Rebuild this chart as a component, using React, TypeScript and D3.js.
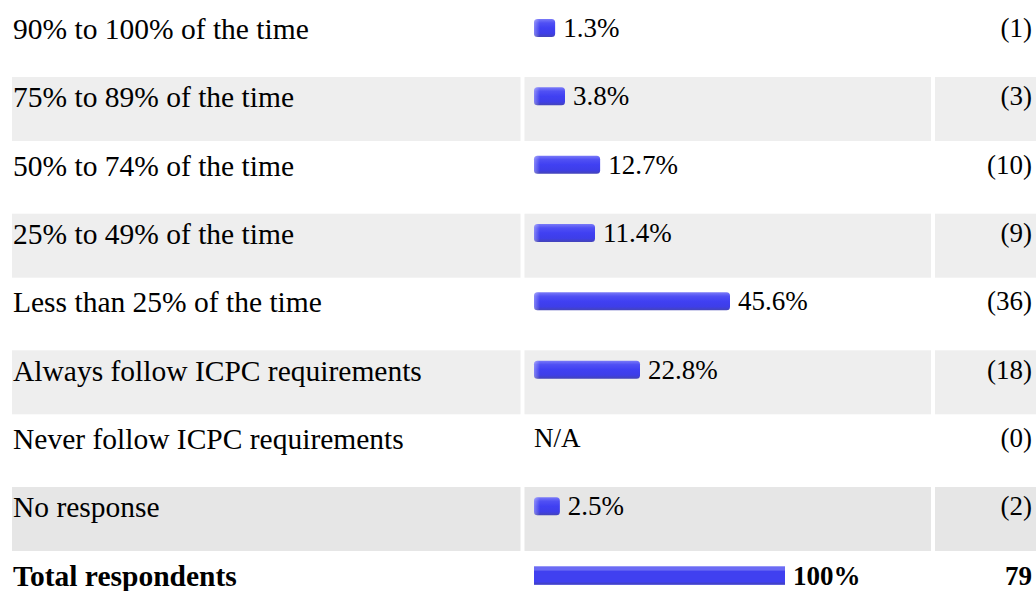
import React from "react";
import * as d3 from "d3";

const categories = [
  "90% to 100% of the time",
  "75% to 89% of the time",
  "50% to 74% of the time",
  "25% to 49% of the time",
  "Less than 25% of the time",
  "Always follow ICPC requirements",
  "Never follow ICPC requirements",
  "No response",
];
const percents: (number | null)[] = [1.3, 3.8, 12.7, 11.4, 45.6, 22.8, null, 2.5];
const counts = [1, 3, 10, 9, 36, 18, 0, 2];
const totalLabel = "Total respondents";
const totalPercent = 100;
const totalCount = 79;

const W = 1036;
const H = 591;
const FONT = "'Liberation Serif', 'Times New Roman', Times, serif";
const FS = 27;
const LABEL_FS = 29.5;

export default function App() {
  const rows = [...categories, totalLabel];
  const y = d3
    .scaleBand<string>()
    .domain(rows)
    .range([8.7, 619.3])
    .paddingInner(0.0634)
    .paddingOuter(0)
    .align(0);
  const bw = y.bandwidth();
  const barX = 534;
  const x = d3.scaleLinear().domain([0, 45.6]).range([16, 196]);
  const xTotal = d3.scaleLinear().domain([0, 100]).range([0, 251]);
  const cols = [
    { x0: 12, x1: 520.5 },
    { x0: 524.5, x1: 931 },
    { x0: 935, x1: 1040 },
  ];
  const bandFill = (i: number) => (i === 7 ? "#e6e6e6" : "#eeeeee");

  return (
    <svg
      width={W}
      height={H}
      style={{ position: "absolute", left: 0, top: 0, display: "block" }}
      fontFamily={FONT}
      fontSize={FS}
    >
      <defs>
        <linearGradient id="barGrad" x1="0" y1="0" x2="0" y2="1">
          <stop offset="0" stopColor="#7a7af8" />
          <stop offset="0.22" stopColor="#5050f4" />
          <stop offset="0.5" stopColor="#4040f2" />
          <stop offset="0.8" stopColor="#3e3ee8" />
          <stop offset="1" stopColor="#4444b8" />
        </linearGradient>
        <linearGradient id="capGrad" x1="0" y1="0" x2="1" y2="0">
          <stop offset="0" stopColor="#ffffff" stopOpacity="0.35" />
          <stop offset="1" stopColor="#ffffff" stopOpacity="0" />
        </linearGradient>
      </defs>
      <rect width={W} height={H} fill="#ffffff" />
      {categories.map((c, i) => {
        const top = y(c)!;
        const base = top + 28.3;
        const p = percents[i];
        const striped = i % 2 === 1;
        const w = p == null ? 0 : x(p);
        return (
          <g key={c}>
            {striped &&
              cols.map((col, j) => (
                <rect key={j} x={col.x0} y={top} width={col.x1 - col.x0} height={bw} fill={bandFill(i)} />
              ))}
            <text x={13} y={base + 2} fill="#000" fontSize={LABEL_FS}>
              {c}
            </text>
            {p == null ? (
              <text x={barX} y={base} fill="#000">
                N/A
              </text>
            ) : (
              <>
                <rect x={barX} y={base - 18} width={w} height={18} rx={3.5} fill="url(#barGrad)" />
                <rect x={barX} y={base - 18} width={Math.min(6, w)} height={18} rx={3.5} fill="url(#capGrad)" />
                <text x={barX + w + 8} y={base} fill="#000">
                  {p.toFixed(1)}%
                </text>
              </>
            )}
            <text x={1032} y={base} textAnchor="end" fill="#000">
              ({counts[i]})
            </text>
          </g>
        );
      })}
      {(() => {
        const top = y(totalLabel)!;
        const base = top + 28.3;
        const w = xTotal(totalPercent);
        return (
          <g fontWeight="bold">
            <text x={13} y={base + 2} fill="#000" fontSize={LABEL_FS}>
              {totalLabel}
            </text>
            <rect x={barX} y={base - 17} width={w} height={18} fill="#4040f0" />
            <rect x={barX} y={base - 17} width={w} height={4} fill="#6b6bf4" />
            <rect x={barX} y={base - 1} width={w} height={2} fill="#4242c8" />
            <text x={barX + w + 8} y={base + 1} fill="#000">
              {totalPercent}%
            </text>
            <text x={1032} y={base + 1} textAnchor="end" fill="#000">
              {totalCount}
            </text>
          </g>
        );
      })()}
    </svg>
  );
}
